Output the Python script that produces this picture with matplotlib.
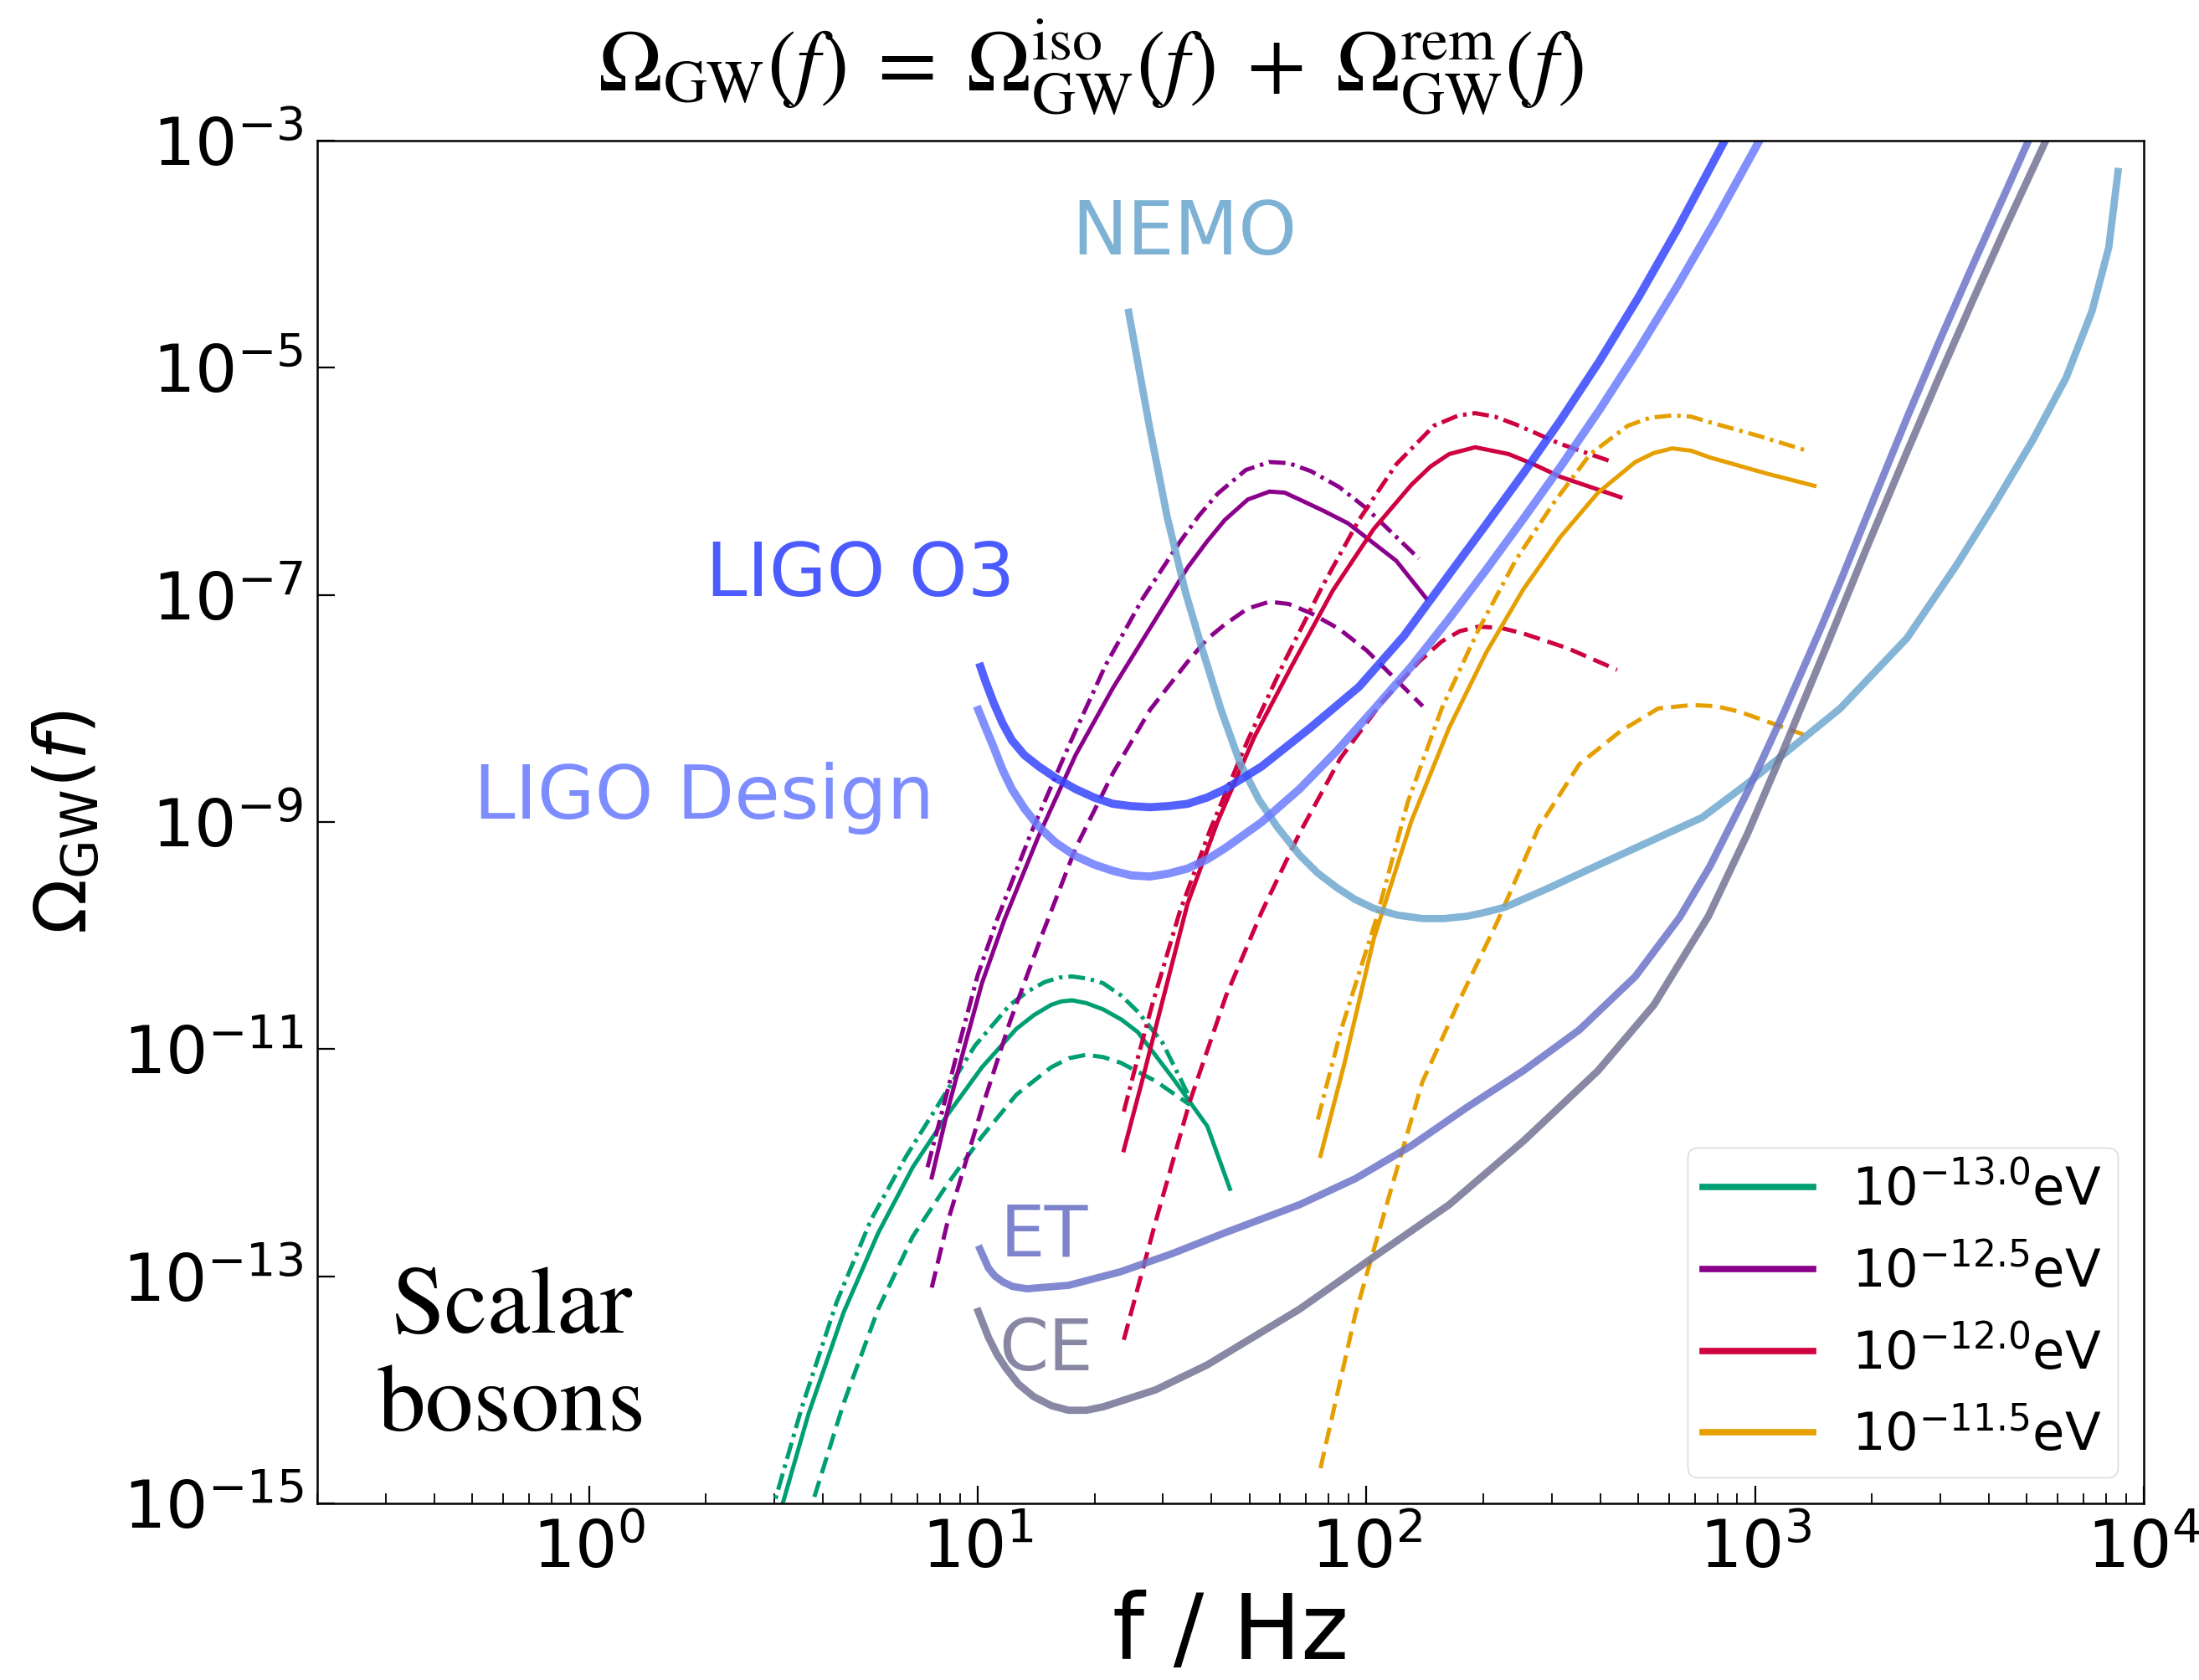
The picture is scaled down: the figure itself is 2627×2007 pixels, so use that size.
import numpy as np
import matplotlib
matplotlib.use("Agg")
import matplotlib.pyplot as plt
from matplotlib.lines import Line2D

# ---------------- data (log10 f [Hz], log10 Omega_GW) ----------------
# boson mass 1e-13.0 eV (green): solid, dash-dot, dashed
g_sol_lf = [0.486, 0.565, 0.655, 0.744, 0.833, 0.922, 1.011, 1.100, 1.145, 1.189, 1.215, 1.243, 1.280, 1.323, 1.370, 1.412, 1.501, 1.591, 1.649]
g_sol_lo = [-15.15, -14.21, -13.32, -12.62, -12.04, -11.58, -11.16, -10.82, -10.70, -10.61, -10.58, -10.57, -10.595, -10.65, -10.74, -10.85, -11.25, -11.68, -12.23]
g_dd_lf = [0.464, 0.548, 0.637, 0.726, 0.815, 0.904, 0.993, 1.083, 1.130, 1.172, 1.210, 1.243, 1.285, 1.323, 1.370, 1.412, 1.475, 1.546]
g_dd_lo = [-15.15, -14.15, -13.23, -12.50, -11.95, -11.46, -10.97, -10.61, -10.49, -10.41, -10.37, -10.36, -10.38, -10.42, -10.53, -10.67, -10.94, -11.43]
g_da_lf = [0.561, 0.655, 0.744, 0.833, 0.922, 1.011, 1.100, 1.189, 1.235, 1.279, 1.323, 1.368, 1.457, 1.546]
g_da_lo = [-15.15, -14.12, -13.29, -12.65, -12.19, -11.77, -11.40, -11.16, -11.08, -11.05, -11.07, -11.12, -11.28, -11.49]

# boson mass 1e-12.5 eV (purple)
p_sol_lf = [0.882, 0.922, 0.967, 1.011, 1.069, 1.156, 1.252, 1.348, 1.444, 1.540, 1.590, 1.636, 1.695, 1.751, 1.790, 1.828, 1.890, 1.953, 2.077, 2.154]
p_sol_lo = [-12.13, -11.55, -10.97, -10.42, -9.86, -9.13, -8.41, -7.82, -7.29, -6.76, -6.53, -6.34, -6.16, -6.09, -6.10, -6.16, -6.26, -6.37, -6.70, -7.03]
p_dd_lf = [0.871, 0.914, 0.957, 1.000, 1.050, 1.137, 1.233, 1.329, 1.425, 1.521, 1.570, 1.617, 1.690, 1.751, 1.800, 1.857, 1.930, 2.001, 2.135]
p_dd_lo = [-12.04, -11.48, -10.90, -10.35, -9.86, -9.10, -8.34, -7.62, -7.03, -6.53, -6.30, -6.11, -5.90, -5.83, -5.84, -5.91, -6.05, -6.24, -6.68]
p_da_lf = [0.882, 0.922, 0.968, 1.011, 1.083, 1.166, 1.252, 1.348, 1.444, 1.540, 1.590, 1.636, 1.695, 1.751, 1.800, 1.857, 1.930, 2.001, 2.145]
p_da_lo = [-13.10, -12.53, -12.01, -11.52, -10.76, -9.99, -9.23, -8.57, -8.01, -7.59, -7.39, -7.26, -7.12, -7.06, -7.08, -7.16, -7.30, -7.49, -7.98]

# boson mass 1e-12.0 eV (red)
r_sol_lf = [1.376, 1.424, 1.473, 1.540, 1.617, 1.712, 1.809, 1.914, 2.019, 2.116, 2.165, 2.213, 2.280, 2.366, 2.430, 2.499, 2.654]
r_sol_lo = [-11.89, -11.27, -10.61, -9.72, -9.00, -8.25, -7.62, -6.96, -6.42, -6.03, -5.87, -5.76, -5.70, -5.76, -5.85, -5.96, -6.14]
r_dd_lf = [1.376, 1.411, 1.449, 1.520, 1.598, 1.695, 1.789, 1.886, 1.981, 2.077, 2.174, 2.237, 2.280, 2.330, 2.385, 2.499, 2.634]
r_dd_lo = [-11.55, -11.09, -10.61, -9.79, -9.07, -8.28, -7.59, -6.93, -6.34, -5.85, -5.51, -5.42, -5.40, -5.43, -5.50, -5.67, -5.83]
r_da_lf = [1.376, 1.457, 1.546, 1.639, 1.731, 1.828, 1.933, 2.039, 2.135, 2.194, 2.240, 2.288, 2.345, 2.404, 2.518, 2.645]
r_da_lo = [-13.56, -12.53, -11.46, -10.53, -9.79, -9.10, -8.44, -7.95, -7.59, -7.41, -7.32, -7.28, -7.29, -7.34, -7.47, -7.66]

# boson mass 1e-11.5 eV (orange)
o_sol_lf = [1.882, 1.944, 2.019, 2.116, 2.213, 2.308, 2.404, 2.499, 2.596, 2.692, 2.740, 2.787, 2.835, 2.884, 3.028, 3.153]
o_sol_lo = [-11.94, -11.12, -10.03, -8.99, -8.17, -7.51, -6.95, -6.49, -6.10, -5.83, -5.75, -5.71, -5.73, -5.79, -5.93, -6.04]
o_dd_lf = [1.875, 1.935, 2.024, 2.107, 2.194, 2.288, 2.385, 2.482, 2.576, 2.673, 2.730, 2.787, 2.835, 2.884, 3.009, 3.133]
o_dd_lo = [-11.62, -10.83, -9.87, -8.82, -8.00, -7.31, -6.69, -6.19, -5.76, -5.51, -5.44, -5.42, -5.43, -5.48, -5.60, -5.73]
o_da_lf = [1.882, 1.972, 2.069, 2.144, 2.241, 2.338, 2.443, 2.548, 2.654, 2.751, 2.837, 2.900, 2.961, 3.125]
o_da_lo = [-14.69, -13.33, -12.17, -11.29, -10.56, -9.87, -9.05, -8.49, -8.20, -8.00, -7.97, -7.98, -8.03, -8.23]

# detector sensitivity curves
o3_lf = [1.004, 1.020, 1.041, 1.064, 1.088, 1.120, 1.157, 1.200, 1.252, 1.300, 1.348, 1.395, 1.443, 1.490, 1.540, 1.590, 1.637, 1.731, 1.856, 1.981, 2.097, 2.213, 2.308, 2.404, 2.500, 2.600, 2.700, 2.800, 2.900, 2.950]
o3_lo = [-7.60, -7.76, -7.95, -8.13, -8.28, -8.41, -8.51, -8.61, -8.71, -8.785, -8.84, -8.86, -8.87, -8.86, -8.84, -8.785, -8.71, -8.51, -8.17, -7.81, -7.36, -6.82, -6.38, -5.93, -5.46, -4.94, -4.38, -3.78, -3.14, -2.82]
des_lf = [0.998, 1.018, 1.041, 1.064, 1.088, 1.120, 1.157, 1.200, 1.252, 1.300, 1.348, 1.395, 1.443, 1.490, 1.540, 1.590, 1.637, 1.731, 1.828, 1.925, 2.019, 2.116, 2.213, 2.308, 2.404, 2.500, 2.600, 2.700, 2.800, 2.900, 3.000, 3.030]
des_lo = [-7.98, -8.15, -8.34, -8.54, -8.71, -8.88, -9.04, -9.18, -9.30, -9.375, -9.43, -9.47, -9.48, -9.455, -9.41, -9.33, -9.23, -9.00, -8.71, -8.37, -8.01, -7.63, -7.21, -6.78, -6.33, -5.87, -5.37, -4.84, -4.28, -3.69, -3.07, -2.88]
nemo_lf = [1.387, 1.441, 1.488, 1.535, 1.578, 1.626, 1.675, 1.723, 1.770, 1.828, 1.875, 1.925, 1.970, 2.019, 2.080, 2.144, 2.200, 2.258, 2.300, 2.357, 2.470, 2.596, 2.864, 2.981, 3.075, 3.219, 3.391, 3.518, 3.613, 3.714, 3.800, 3.867, 3.910, 3.935]
nemo_lo = [-4.48, -5.50, -6.32, -6.98, -7.48, -8.01, -8.48, -8.80, -9.04, -9.29, -9.45, -9.58, -9.68, -9.76, -9.82, -9.85, -9.85, -9.83, -9.80, -9.75, -9.58, -9.38, -8.96, -8.66, -8.40, -8.00, -7.38, -6.74, -6.22, -5.64, -5.09, -4.50, -3.94, -3.24]
et_lf = [1.002, 1.028, 1.045, 1.065, 1.090, 1.127, 1.234, 1.368, 1.501, 1.634, 1.828, 1.972, 2.116, 2.260, 2.404, 2.548, 2.692, 2.806, 2.884, 2.981, 3.075, 3.172, 3.221, 3.305, 3.391, 3.475, 3.561, 3.645, 3.697, 3.725]
et_lo = [-12.73, -12.93, -13.00, -13.05, -13.09, -13.11, -13.08, -12.96, -12.80, -12.62, -12.37, -12.14, -11.85, -11.51, -11.19, -10.83, -10.36, -9.84, -9.39, -8.73, -8.03, -7.27, -6.87, -6.16, -5.44, -4.76, -4.09, -3.45, -3.05, -2.84]
ce_lf = [0.998, 1.028, 1.050, 1.073, 1.105, 1.144, 1.190, 1.234, 1.280, 1.323, 1.458, 1.591, 1.828, 2.019, 2.213, 2.404, 2.596, 2.740, 2.880, 2.981, 3.075, 3.183, 3.288, 3.391, 3.475, 3.561, 3.645, 3.748, 3.781]
ce_lo = [-13.28, -13.54, -13.69, -13.81, -13.95, -14.06, -14.14, -14.18, -14.18, -14.15, -14.00, -13.78, -13.29, -12.83, -12.37, -11.81, -11.19, -10.61, -9.83, -9.10, -8.35, -7.46, -6.58, -5.74, -5.07, -4.40, -3.76, -3.00, -2.75]

mass_labels = [r'$10^{-13.0}$eV', r'$10^{-12.5}$eV', r'$10^{-12.0}$eV', r'$10^{-11.5}$eV']
mass_colors = ['#009E73', '#8B008B', '#CF0040', '#E69F00']
xtick_vals = [1e0, 1e1, 1e2, 1e3, 1e4]
ytick_vals = [1e-15, 1e-13, 1e-11, 1e-9, 1e-7, 1e-5, 1e-3]

# ---------------- figure ----------------
W, H, DPI = 2627, 2007, 100
fig = plt.figure(figsize=(W / DPI, H / DPI), dpi=DPI)
ax = fig.add_axes([379 / W, 1 - 1796 / H, (2561 - 379) / W, (1796 - 168) / H])
ax.set_xscale('log')
ax.set_yscale('log')

def P(lf, lo):
    return 10 ** np.asarray(lf), 10 ** np.asarray(lo)

lw_m = 3.6
dash = (0, (4.0, 1.9))
dashdot = (0, (4.0, 1.4, 0.85, 1.4))
mass_sets = [
    (g_sol_lf, g_sol_lo, g_dd_lf, g_dd_lo, g_da_lf, g_da_lo),
    (p_sol_lf, p_sol_lo, p_dd_lf, p_dd_lo, p_da_lf, p_da_lo),
    (r_sol_lf, r_sol_lo, r_dd_lf, r_dd_lo, r_da_lf, r_da_lo),
    (o_sol_lf, o_sol_lo, o_dd_lf, o_dd_lo, o_da_lf, o_da_lo),
]
for col, (sl, so, dl, do, al, ao) in zip(mass_colors, mass_sets):
    ax.plot(*P(sl, so), color=col, lw=lw_m, solid_joinstyle='round')
    ax.plot(*P(dl, do), color=col, lw=lw_m, linestyle=dashdot, dash_joinstyle='round')
    ax.plot(*P(al, ao), color=col, lw=lw_m, linestyle=dash, dash_joinstyle='round')

# detectors
det = dict(solid_joinstyle='round', solid_capstyle='butt', alpha=0.85)
ax.plot(*P(nemo_lf, nemo_lo), color='#6FA8CF', lw=6.3, **det)
ax.plot(*P(et_lf, et_lo), color='#6C74C8', lw=6.3, **det)
ax.plot(*P(ce_lf, ce_lo), color='#737395', lw=6.3, **det)
ax.plot(*P(des_lf, des_lo), color='#6B7BFF', lw=7.0, **det)
ax.plot(*P(o3_lf, o3_lo), color='#3545FF', lw=7.0, **det)

ax.set_xlim(0.2, 1e4)
ax.set_ylim(1e-15, 1e-3)
ax.set_xticks(xtick_vals)
ax.set_yticks(ytick_vals)
ax.yaxis.set_minor_locator(matplotlib.ticker.NullLocator())
ax.tick_params(which='both', direction='in', top=False, right=False)
ax.tick_params(which='major', length=15, width=1.6, labelsize=57, pad=12)
ax.tick_params(which='minor', length=9, width=1.3)
for s in ax.spines.values():
    s.set_linewidth(1.8)

# text labels
tk = dict(transform=ax.transAxes, ha='left', va='baseline', fontsize=64)
ax.text(0.413, 0.9165, 'NEMO', color='#7DB2D4', **tk)
ax.text(0.2127, 0.6658, 'LIGO O3', color='#4B5BFF', **tk)
ax.text(0.0857, 0.5025, 'LIGO Design', color='#7D8CFF', **tk)
tk2 = dict(transform=ax.transAxes, ha='left', va='baseline', fontsize=61)
ax.text(0.374, 0.1818, 'ET', color='#7D84CD', **tk2)
ax.text(0.373, 0.0977, 'CE', color='#8787A5', **tk2)
ax.text(0.1063, 0.1253, 'Scalar', ha='center', va='baseline', fontsize=83,
        family='STIXGeneral', transform=ax.transAxes)
ax.text(0.1063, 0.0534, 'bosons', ha='center', va='baseline', fontsize=83,
        family='STIXGeneral', transform=ax.transAxes)

# legend
handles = [Line2D([], [], color=c, lw=5.5) for c in mass_colors]
ax.legend(handles, mass_labels, loc='lower right', fontsize=45,
          handlelength=2.1, handletextpad=0.75, labelspacing=0.55,
          borderpad=0.3, borderaxespad=0.5)

# axis labels and title
ax.set_xlabel('f / Hz', fontsize=78)
ax.xaxis.label.set_va('baseline')
ax.xaxis.set_label_coords(0.5, -(1982 - 1796) / 1628)
ax.set_ylabel(r'$\Omega_{\rm GW}(f)$', fontsize=62)
ax.yaxis.label.set_va('baseline')
ax.yaxis.set_label_coords((104 - 379) / 2182, 0.5)

fig.text(0.496, 1 - 109 / H,
         r'$\Omega_{\rm GW}(f)\;=\;\Omega_{\rm GW}^{\rm iso}(f)\;+\;\Omega_{\rm GW}^{\rm rem}(f)$',
         ha='center', va='baseline', fontsize=74, math_fontfamily='stix')

fig.savefig('out.png', dpi=DPI)
